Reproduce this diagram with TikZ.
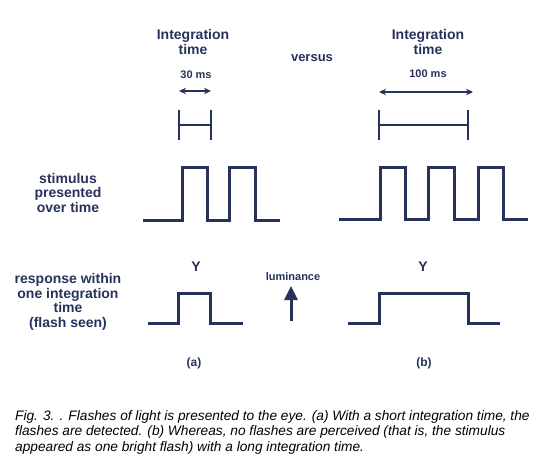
\documentclass[tikz,border=0pt]{standalone}
\usepackage{fontspec}
\setmainfont{Liberation Sans}
\usetikzlibrary{arrows.meta}
\definecolor{ink}{HTML}{27325C}
\tikzset{
  wave/.style={line width=3pt, color=ink, line join=miter},
  bar/.style={line width=2.6pt, color=ink},
  span/.style={line width=1.4pt, color=ink, {Stealth[length=7pt,width=6.5pt]}-{Stealth[length=7pt,width=6.5pt]}},
  lbl/.style={font=\fontsize{14}{14.5}\selectfont\bfseries, text=ink, align=center, inner sep=0pt},
  small/.style={font=\fontsize{11}{12}\selectfont\bfseries, text=ink, inner sep=0pt}
}

\begin{document}
\begin{tikzpicture}[x=1pt, y=-1pt]
			%%%%% START %%%%%
			\useasboundingbox (0, 0) rectangle (550, 471);
			
			% headings
			\node[lbl] (inta) at (193, 42) {Integration\\time};
			\node[lbl] (intb) at (428, 42) {Integration\\time};
			\node[lbl, font=\fontsize{13}{14}\selectfont\bfseries] (versus) at (312, 58) {versus};
			
			% integration windows
			\node[small] (msa) at (196, 75) {30 ms};
			\coordinate (msaL) at (179, 91);
			\coordinate (msaR) at (211, 91);
			\draw[span] (msaL) -- (msaR);
			
			\node[small] (msb) at (428, 74) {100 ms};
			\coordinate (msbL) at (379, 92);
			\coordinate (msbR) at (473, 92);
			\draw[span] (msbL) -- (msbR);
			
			\draw[bar] (179, 110) -- (179, 140);
			\draw[bar] (211, 110) -- (211, 140);
			\draw[bar] (179, 125) -- (211, 125);
			
			\draw[bar] (379, 110) -- (379, 140);
			\draw[bar] (468, 110) -- (468, 140);
			\draw[bar] (379, 125) -- (468, 125);
			
			% stimulus
			\node[lbl] (stim) at (68, 192.5) {stimulus\\presented\\over time};
			\draw[wave] (143, 220) -- (182, 220) -- (182, 167) -- (207, 167) -- (207, 220)
			  -- (229, 220) -- (229, 167) -- (255, 167) -- (255, 220) -- (280, 220);
			\draw[wave] (339, 219) -- (380, 219) -- (380, 167) -- (405, 167) -- (405, 219)
			  -- (428, 219) -- (428, 167) -- (454, 167) -- (454, 219)
			  -- (478, 219) -- (478, 167) -- (503, 167) -- (503, 219) -- (528, 219);
			
			% response
			\node[lbl] (resp) at (68, 302) {response within\\one integration\\time\\(flash seen)};
			\node[lbl] (ya) at (196, 267) {Y};
			\node[lbl] (yb) at (423, 267) {Y};
			\draw[wave] (148, 323) -- (178, 323) -- (178, 293) -- (210, 293) -- (210, 323) -- (243, 323);
			\draw[wave] (348, 323) -- (379, 323) -- (379, 293) -- (468, 293) -- (468, 323) -- (500, 323);
			
			% luminance axis
			\node[small] (lum) at (293, 277) {luminance};
			\coordinate (lumB) at (291, 321);
			\coordinate (lumT) at (291, 286);
			\draw[line width=3pt, color=ink, -{Triangle[length=14pt,width=13pt]}] (lumB) -- (lumT);
			
			\node[lbl, font=\fontsize{12}{13}\selectfont\bfseries] (pa) at (194, 363) {(a)};
			\node[lbl, font=\fontsize{12}{13}\selectfont\bfseries] (pb) at (424, 363) {(b)};
			
			% caption
			\node[anchor=north west, align=left, inner sep=0pt,
			  font=\fontsize{13.7}{15.7}\selectfont\itshape] (cap) at (15, 410)
			  {Fig. 3. . Flashes of light is presented to the eye. (a) With a short integration time, the\\
			   flashes are detected. (b) Whereas, no flashes are perceived (that is, the stimulus\\
			   appeared as one bright flash) with a long integration time.};
			%%%%% END %%%%%
\end{tikzpicture}
\end{document}
